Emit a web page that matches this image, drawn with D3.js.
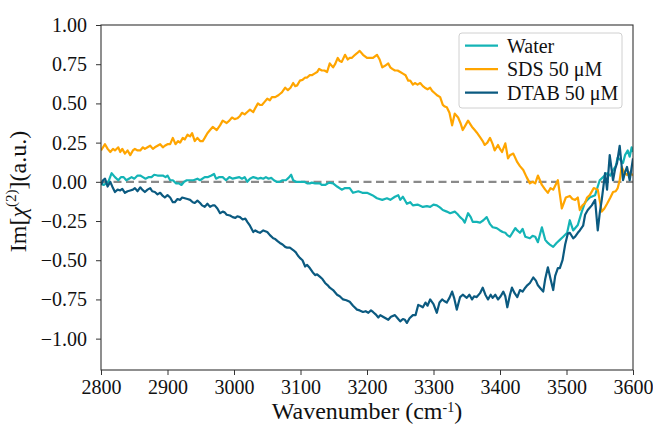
<!DOCTYPE html>
<html>
<head>
<meta charset="utf-8">
<script src="https://cdn.jsdelivr.net/npm/d3@7"></script>
<style>
    body { margin: 0; background: white; }
    text { font-family: "Liberation Serif", "Times New Roman", serif; fill: #111; }
    .tick text { font-size: 20px; font-family: "Liberation Serif", serif; }
    .axis-title { font-size: 24px; }
    .legend-label { font-size: 20px; }
</style>
</head>
<body>
<div class="chart"></div>
<script>
// wavenumber ticks and intensity ticks
var xTicks = [2800, 2900, 3000, 3100, 3200, 3300, 3400, 3500, 3600];
var yTicks = [1.00, 0.75, 0.50, 0.25, 0.00, -0.25, -0.50, -0.75, -1.00];

var seriesNames = ["Water", "SDS 50 \u03bcM", "DTAB 50 \u03bcM"];
var seriesColors = ["#14b4b6", "#ffa500", "#0b5a80"];

// [wavenumber, Im chi2]
var water = [[2800,-0.01],[2804,-0.02],[2808,-0.01],[2811,0.00],[2816,0.055],[2821,0.03],[2826,0.01],[2830,0.03],
    [2834,0.03],[2838,0.01],[2842,0.02],[2846,0.03],[2850,0.02],[2855,0.04],[2859,0.04],[2863,0.03],[2867,0.02],
    [2872,0.03],[2876,0.03],[2880,0.045],[2885,0.04],[2888,0.04],[2893,0.04],[2897,0.03],[2900,0.04],[2904,0.01],
    [2908,0.01],[2913,-0.01],[2917,-0.01],[2921,-0.02],[2925,0.00],[2929,0.01],[2934,0.01],[2939,0.01],[2945,0.02],
    [2949,0.01],[2956,0.03],[2961,0.03],[2966,0.04],[2970,0.05],[2973,0.02],[2978,0.03],[2983,0.03],[2988,0.01],
    [2993,0.03],[2998,0.02],[3003,0.025],[3008,0.03],[3012,0.02],[3016,0.03],[3020,0.00],[3024,0.02],[3029,0.03],
    [3033,0.025],[3036,0.02],[3040,0.025],[3044,0.02],[3048,0.03],[3052,0.02],[3056,0.025],[3060,0.01],[3064,0.00],
    [3069,0.00],[3073,0.01],[3078,0.01],[3082,0.025],[3086,0.045],[3089,0.01],[3093,0.00],[3097,0.00],[3102,0.00],
    [3106,0.00],[3110,-0.01],[3114,-0.01],[3117,-0.005],[3122,-0.01],[3129,-0.01],[3132,-0.02],[3137,-0.02],
    [3143,-0.005],[3149,-0.01],[3155,-0.03],[3162,-0.05],[3167,-0.04],[3174,-0.04],[3179,-0.07],[3187,-0.06],
    [3193,-0.07],[3200,-0.07],[3208,-0.085],[3215,-0.105],[3223,-0.115],[3230,-0.105],[3235,-0.115],[3242,-0.095],
    [3247,-0.085],[3250,-0.115],[3254,-0.095],[3260,-0.14],[3265,-0.13],[3269,-0.15],[3276,-0.145],[3284,-0.16],
    [3290,-0.155],[3295,-0.16],[3300,-0.145],[3305,-0.15],[3310,-0.165],[3314,-0.18],[3320,-0.19],[3325,-0.20],
    [3332,-0.19],[3336,-0.205],[3340,-0.225],[3344,-0.24],[3347,-0.26],[3352,-0.20],[3356,-0.225],[3359,-0.255],
    [3365,-0.255],[3370,-0.26],[3375,-0.245],[3380,-0.225],[3385,-0.27],[3389,-0.29],[3395,-0.295],[3400,-0.31],
    [3404,-0.32],[3408,-0.325],[3411,-0.34],[3415,-0.35],[3423,-0.295],[3426,-0.31],[3430,-0.325],[3434,-0.30],
    [3438,-0.35],[3445,-0.36],[3449,-0.345],[3453,-0.35],[3457,-0.385],[3463,-0.29],[3468,-0.37],[3472,-0.39],
    [3475,-0.40],[3480,-0.415],[3485,-0.39],[3490,-0.37],[3495,-0.35],[3501,-0.325],[3505,-0.245],[3510,-0.31],
    [3517,-0.275],[3523,-0.19],[3528,-0.13],[3535,-0.10],[3543,-0.085],[3547,-0.03],[3550,0.01],[3555,0.03],
    [3561,0.055],[3566,0.04],[3570,0.075],[3574,0.10],[3577,0.155],[3581,0.14],[3585,0.12],[3588,0.17],
    [3592,0.20],[3595,0.16],[3598,0.22],[3600,0.19]];

var sds = [[2800,0.20],[2806,0.24],[2810,0.21],[2814,0.19],[2818,0.21],[2821,0.20],[2826,0.22],[2829,0.19],
    [2832,0.21],[2836,0.18],[2840,0.20],[2844,0.17],[2848,0.20],[2851,0.21],[2855,0.20],[2859,0.20],[2863,0.22],
    [2866,0.21],[2870,0.22],[2874,0.23],[2878,0.21],[2881,0.22],[2885,0.23],[2889,0.24],[2893,0.22],[2896,0.23],
    [2900,0.24],[2904,0.24],[2908,0.28],[2912,0.24],[2916,0.26],[2919,0.25],[2923,0.28],[2926,0.27],[2930,0.30],
    [2934,0.29],[2937,0.31],[2941,0.26],[2945,0.28],[2949,0.26],[2953,0.26],[2956,0.28],[2960,0.31],[2964,0.33],
    [2968,0.35],[2974,0.33],[2979,0.36],[2983,0.39],[2989,0.375],[2993,0.39],[2997,0.41],[3001,0.40],[3005,0.405],
    [3009,0.42],[3012,0.44],[3016,0.43],[3020,0.445],[3024,0.46],[3029,0.445],[3032,0.47],[3036,0.50],[3039,0.49],
    [3042,0.49],[3046,0.51],[3050,0.53],[3054,0.52],[3057,0.54],[3062,0.54],[3066,0.55],[3069,0.56],[3072,0.57],
    [3077,0.60],[3081,0.585],[3085,0.60],[3089,0.63],[3092,0.61],[3095,0.615],[3099,0.645],[3103,0.65],[3107,0.665],
    [3110,0.665],[3114,0.68],[3117,0.68],[3121,0.69],[3125,0.70],[3128,0.72],[3132,0.71],[3136,0.71],[3140,0.70],
    [3144,0.755],[3149,0.73],[3152,0.75],[3156,0.79],[3159,0.77],[3162,0.765],[3167,0.81],[3171,0.78],[3174,0.79],
    [3177,0.79],[3182,0.81],[3185,0.82],[3189,0.835],[3194,0.81],[3197,0.80],[3200,0.79],[3205,0.79],[3209,0.79],
    [3212,0.80],[3215,0.81],[3219,0.78],[3223,0.73],[3227,0.74],[3232,0.755],[3235,0.73],[3238,0.72],[3242,0.71],
    [3246,0.71],[3250,0.70],[3254,0.69],[3258,0.68],[3262,0.645],[3265,0.645],[3269,0.62],[3272,0.63],[3276,0.62],
    [3280,0.63],[3284,0.61],[3287,0.60],[3291,0.59],[3295,0.60],[3298,0.58],[3302,0.565],[3306,0.55],[3310,0.54],
    [3314,0.49],[3317,0.48],[3320,0.475],[3324,0.44],[3328,0.36],[3332,0.435],[3337,0.41],[3341,0.37],[3344,0.33],
    [3348,0.36],[3352,0.39],[3355,0.37],[3358,0.35],[3362,0.33],[3365,0.315],[3370,0.285],[3374,0.26],[3377,0.235],
    [3381,0.25],[3385,0.28],[3389,0.24],[3392,0.20],[3397,0.235],[3400,0.21],[3403,0.19],[3408,0.245],[3412,0.15],
    [3415,0.17],[3420,0.18],[3426,0.125],[3430,0.10],[3435,0.075],[3440,0.03],[3445,-0.01],[3449,0.00],[3453,-0.01],
    [3457,0.04],[3463,-0.02],[3468,-0.05],[3472,-0.07],[3476,-0.04],[3480,-0.05],[3487,0.01],[3490,-0.08],
    [3493,-0.17],[3499,-0.10],[3505,-0.09],[3509,-0.11],[3513,-0.115],[3517,-0.10],[3520,-0.18],[3524,-0.15],
    [3528,-0.135],[3531,-0.10],[3535,-0.085],[3541,-0.04],[3547,-0.05],[3550,-0.12],[3553,-0.19],[3557,-0.17],
    [3561,-0.14],[3566,-0.10],[3570,-0.065],[3574,-0.06],[3577,-0.04],[3580,0.01],[3583,0.095],[3587,0.06],
    [3591,0.043],[3595,0.06],[3600,0.04]];

var dtab = [[2800,-0.02],[2803,0.01],[2806,0.02],[2810,-0.03],[2814,0.00],[2818,-0.04],[2821,-0.065],[2825,-0.05],
    [2829,-0.055],[2832,-0.045],[2836,-0.07],[2840,-0.06],[2844,-0.055],[2848,-0.05],[2851,-0.04],[2855,-0.06],
    [2859,-0.035],[2862,-0.05],[2866,-0.065],[2870,-0.05],[2874,-0.04],[2877,-0.06],[2881,-0.065],[2885,-0.08],
    [2889,-0.07],[2893,-0.09],[2896,-0.10],[2900,-0.085],[2904,-0.10],[2908,-0.13],[2911,-0.13],[2915,-0.11],
    [2919,-0.115],[2922,-0.10],[2926,-0.105],[2930,-0.11],[2934,-0.115],[2938,-0.13],[2941,-0.135],[2945,-0.12],
    [2949,-0.135],[2952,-0.15],[2956,-0.16],[2960,-0.14],[2964,-0.16],[2968,-0.15],[2971,-0.15],[2975,-0.17],
    [2979,-0.20],[2983,-0.19],[2986,-0.195],[2989,-0.21],[2994,-0.215],[2998,-0.225],[3002,-0.23],[3005,-0.22],
    [3009,-0.225],[3013,-0.24],[3017,-0.235],[3020,-0.255],[3024,-0.28],[3029,-0.32],[3032,-0.31],[3036,-0.32],
    [3039,-0.325],[3044,-0.31],[3047,-0.315],[3050,-0.32],[3054,-0.34],[3059,-0.36],[3062,-0.365],[3066,-0.38],
    [3069,-0.39],[3073,-0.40],[3077,-0.415],[3080,-0.42],[3084,-0.42],[3089,-0.435],[3093,-0.45],[3096,-0.47],
    [3099,-0.485],[3103,-0.50],[3107,-0.54],[3110,-0.53],[3114,-0.55],[3118,-0.575],[3122,-0.595],[3125,-0.59],
    [3129,-0.605],[3133,-0.62],[3137,-0.645],[3141,-0.66],[3144,-0.675],[3149,-0.69],[3155,-0.72],[3159,-0.73],
    [3164,-0.75],[3169,-0.755],[3174,-0.765],[3179,-0.79],[3185,-0.815],[3189,-0.82],[3194,-0.83],[3198,-0.825],
    [3202,-0.835],[3206,-0.82],[3209,-0.83],[3213,-0.845],[3217,-0.865],[3220,-0.85],[3224,-0.86],[3228,-0.87],
    [3232,-0.88],[3236,-0.86],[3242,-0.85],[3246,-0.87],[3250,-0.89],[3254,-0.875],[3257,-0.88],[3260,-0.90],
    [3264,-0.87],[3269,-0.85],[3273,-0.85],[3277,-0.785],[3280,-0.79],[3284,-0.80],[3288,-0.77],[3291,-0.79],
    [3295,-0.75],[3300,-0.78],[3305,-0.835],[3309,-0.77],[3313,-0.75],[3316,-0.76],[3320,-0.77],[3324,-0.74],
    [3328,-0.70],[3331,-0.74],[3335,-0.815],[3340,-0.735],[3344,-0.72],[3350,-0.74],[3354,-0.72],[3358,-0.75],
    [3361,-0.73],[3365,-0.735],[3370,-0.71],[3374,-0.675],[3378,-0.72],[3382,-0.75],[3386,-0.72],[3389,-0.74],
    [3393,-0.72],[3397,-0.75],[3401,-0.73],[3405,-0.70],[3408,-0.73],[3411,-0.80],[3415,-0.72],[3418,-0.675],
    [3422,-0.71],[3426,-0.735],[3430,-0.69],[3434,-0.70],[3438,-0.675],[3441,-0.66],[3445,-0.645],[3450,-0.61],
    [3454,-0.63],[3457,-0.66],[3461,-0.68],[3465,-0.70],[3468,-0.62],[3472,-0.545],[3476,-0.62],[3480,-0.69],
    [3483,-0.60],[3487,-0.55],[3490,-0.55],[3494,-0.50],[3498,-0.40],[3502,-0.33],[3505,-0.325],[3510,-0.36],
    [3513,-0.35],[3517,-0.325],[3520,-0.31],[3525,-0.28],[3528,-0.21],[3532,-0.18],[3538,-0.15],[3543,-0.115],
    [3547,-0.31],[3550,-0.20],[3553,-0.115],[3558,0.055],[3561,-0.05],[3565,0.17],[3570,0.01],[3573,0.08],
    [3576,0.12],[3580,0.23],[3585,0.01],[3588,0.06],[3591,0.095],[3595,0.01],[3600,0.15]];

var seriesData = [water, sds, dtab];

function drawSpectrumChart() {
    var margin = {top: 25, right: 20, bottom: 59, left: 101};
    var width = 653 - margin.left - margin.right;
    var height = 429 - margin.top - margin.bottom;

    var x = d3.scaleLinear().domain([2800, 3600]).range([0, width]);
    var y = d3.scaleLinear().domain([-1.2, 1.0]).range([height, 0]);

    var svg = d3.select(".chart").append("svg")
        .attr("width", width + margin.left + margin.right)
        .attr("height", height + margin.top + margin.bottom);

    var g = svg.append("g")
        .attr("transform", `translate(${margin.left}, ${margin.top})`);

    g.append("clipPath")
        .attr("id", "plot-clip")
        .append("rect")
        .attr("width", width)
        .attr("height", height);

    // zero reference line
    g.append("line")
        .attr("x1", x(2800))
        .attr("x2", x(3600))
        .attr("y1", y(0))
        .attr("y2", y(0))
        .attr("stroke", "#8a8a8a")
        .attr("stroke-width", 2.2)
        .attr("stroke-dasharray", "8,4.5");

    var line = d3.line()
        .x(d => x(d[0]))
        .y(d => y(d[1]));

    g.append("g")
        .attr("clip-path", "url(#plot-clip)")
        .selectAll("path")
        .data(seriesData)
        .enter()
        .append("path")
        .attr("fill", "none")
        .attr("stroke", (d, i) => seriesColors[i])
        .attr("stroke-width", 2.2)
        .attr("stroke-linejoin", "round")
        .attr("d", line);

    // axes, ticks point outwards on left and bottom only
    var xAxis = g.append("g")
        .attr("transform", `translate(0, ${height})`)
        .call(d3.axisBottom(x).tickValues(xTicks).tickFormat(d3.format("d")).tickSize(5).tickPadding(5));

    var yAxis = g.append("g")
        .call(d3.axisLeft(y).tickValues(yTicks).tickFormat(d3.format(".2f")).tickSize(5).tickPadding(9));

    [xAxis, yAxis].forEach(function(ax) {
        ax.attr("font-family", null).attr("font-size", null);
        ax.select(".domain").remove();
        ax.selectAll(".tick line").attr("stroke", "#333");
        ax.selectAll(".tick text").attr("fill", "#111");
    });

    // frame
    g.append("rect")
        .attr("width", width)
        .attr("height", height)
        .attr("fill", "none")
        .attr("stroke", "#333")
        .attr("stroke-width", 1.1);

    // axis titles
    var xTitle = svg.append("text")
        .attr("class", "axis-title")
        .attr("x", margin.left + width / 2)
        .attr("y", 419)
        .attr("text-anchor", "middle");
    xTitle.append("tspan").text("Wavenumber (cm");
    xTitle.append("tspan").attr("font-size", "14px").attr("dy", -7).text("-1");
    xTitle.append("tspan").attr("dy", 7).text(")");

    var yTitle = svg.append("text")
        .attr("class", "axis-title")
        .attr("transform", `translate(26, ${margin.top + height / 2 - 6}) rotate(-90)`)
        .attr("text-anchor", "middle");
    yTitle.append("tspan").text("Im[");
    yTitle.append("tspan").attr("font-style", "italic").text("\u03c7");
    yTitle.append("tspan").attr("font-size", "15px").attr("dy", -10).text("(2)");
    yTitle.append("tspan").attr("dy", 10).text("](a.u.)");

    // legend
    var legend = svg.append("g")
        .attr("transform", "translate(459, 33)");

    legend.append("rect")
        .attr("width", 163)
        .attr("height", 75)
        .attr("rx", 3)
        .attr("ry", 3)
        .attr("fill", "white")
        .attr("fill-opacity", 0.85)
        .attr("stroke", "#d0d0d0");

    var items = legend.selectAll(".legend-item")
        .data(seriesNames)
        .enter()
        .append("g")
        .attr("class", "legend-item")
        .attr("transform", (d, i) => `translate(0, ${12.7 + i * 23.5})`);

    items.append("line")
        .attr("x1", 6)
        .attr("x2", 39)
        .attr("stroke", (d, i) => seriesColors[i])
        .attr("stroke-width", 2.2);

    items.append("text")
        .attr("class", "legend-label")
        .attr("x", 48)
        .attr("y", 7)
        .text(d => d);
}

drawSpectrumChart();
</script>
</body>
</html>
